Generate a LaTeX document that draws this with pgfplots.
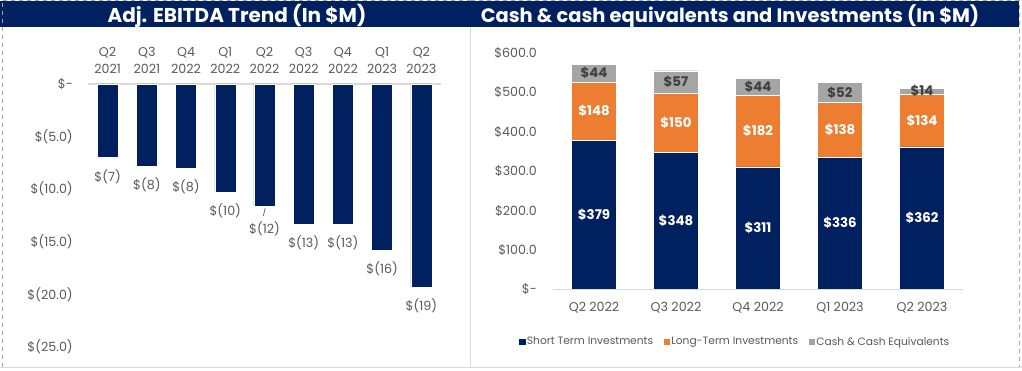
\documentclass[border=0pt]{standalone}
\usepackage{pgfplots}
\pgfplotsset{compat=1.18}
\usepackage{fontspec}
\setmainfont{Poppins}
\definecolor{navy}{RGB}{0,32,96}
\definecolor{orng}{RGB}{237,125,49}
\definecolor{gry}{RGB}{165,165,165}
\definecolor{txt}{RGB}{89,89,89}
\definecolor{dtxt}{RGB}{64,64,64}
\definecolor{sepc}{RGB}{217,217,217}
\begin{document}
\begin{tikzpicture}
\useasboundingbox (0,0) rectangle (766.5pt,278.25pt);
\fill[white] (0,0) rectangle (766.5pt,278.25pt);
% title bars
\fill[navy] (0pt,258pt) rectangle (352.9pt,277.5pt);
\fill[navy] (353.6pt,258pt) rectangle (764.25pt,277.5pt);
\node[white,anchor=base,font=\bfseries\fontsize{15}{17}\selectfont] at (177.75pt,261.2pt) {Adj. EBITDA Trend (In \$M)};
\node[white,anchor=base,font=\bfseries\fontsize{14.6}{17}\selectfont] at (547.5pt,261.2pt) {Cash \& cash equivalents and Investments (In \$M)};
% frames
\draw[gray!70,dashed,line width=0.5pt] (1.5pt,2.8pt) -- (1.5pt,278pt) -- (352.9pt,278pt);
\draw[gray!70,dashed,line width=0.5pt] (353.6pt,278pt) -- (764.25pt,278pt) -- (764.25pt,2.8pt);
\draw[sepc,line width=0.8pt] (353.2pt,2.6pt) -- (353.2pt,258pt);
\draw[sepc,line width=0.8pt] (0pt,2.6pt) -- (766.5pt,2.6pt);

% ---------- left chart ----------
\begin{axis}[
  at={(66pt,18pt)}, anchor=south west,
  scale only axis, width=264.75pt, height=197.25pt,
  ybar, bar width=15.75pt, bar shift=0pt,
  xmin=-0.5, xmax=8.5, ymin=-25, ymax=0,
  axis line style={draw=none}, tick style={draw=none},
  major tick length=0pt,
  xtick={0,...,8},
  xticklabels={{Q2\\2021},{Q3\\2021},{Q4\\2022},{Q1\\2022},{Q2\\2022},{Q3\\2022},{Q4\\2022},{Q1\\2023},{Q2\\2023}},
  xticklabel pos=upper,
  xticklabel style={align=center, text=txt, font=\fontsize{9.5}{12.75}\selectfont, anchor=south, inner sep=0pt, yshift=8pt},
  ytick={-25,-20,-15,-10,-5,0},
  yticklabels={\$(25.0),\$(20.0),\$(15.0),\$(10.0),\$(5.0),\$-},
  yticklabel style={text=txt, font=\fontsize{9.5}{11}\selectfont, anchor=east, inner sep=0pt, xshift=-11.25pt},
  clip=false,
]
\draw[sepc,line width=1.2pt] (rel axis cs:0,1) -- (rel axis cs:1,1);
\addplot[fill=navy, draw=white, line width=0.3pt] coordinates {
(0,-7.0) (1,-7.8) (2,-8.0) (3,-10.3) (4,-11.6) (5,-13.3) (6,-13.3) (7,-15.8) (8,-19.3)};
% data labels
\addplot[draw=none, fill=none,
  nodes near coords={\$(\pgfplotspointmeta)},
  point meta=explicit symbolic,
  every node near coord/.append style={anchor=north, inner sep=0pt, yshift=-8.5pt, text=txt, font=\fontsize{9.5}{11}\selectfont}]
  table[meta=lab] {
x y lab
0 -7.0 7
1 -7.8 8
2 -8.0 8
3 -10.3 10
4 -11.98 12
5 -13.3 13
6 -13.3 13
7 -15.8 16
8 -19.3 19
};
\addplot[sharp plot, txt, line width=0.5pt, mark=none] coordinates {(4.02,-11.78) (3.97,-12.55)};
\end{axis}

% ---------- right chart ----------
\begin{axis}[
  at={(414.75pt,61.125pt)}, anchor=south west,
  scale only axis, width=307.5pt, height=177.375pt,
  ybar stacked, bar width=33.75pt,
  legend image code/.code={\fill[#1,draw=none] (0pt,-2.3pt) rectangle (4.6pt,2.3pt);},
  xmin=-0.5, xmax=4.5, ymin=0, ymax=600,
  axis line style={draw=none}, tick style={draw=none},
  major tick length=0pt,
  xtick={0,...,4},
  xticklabels={Q2 2022,Q3 2022,Q4 2022,Q1 2023,Q2 2023},
  xticklabel style={text=txt, font=\fontsize{9.5}{11}\selectfont, anchor=north, inner sep=0pt, yshift=-9pt},
  ytick={0,100,...,600},
  yticklabels={\$-,\$100.0,\$200.0,\$300.0,\$400.0,\$500.0,\$600.0},
  yticklabel style={text=txt, font=\fontsize{9.5}{11}\selectfont, anchor=east, inner sep=0pt, xshift=-12pt},
  legend columns=3,
  legend style={draw=none, fill=none, at={(0.444,-0.222)}, anchor=center,
    font=\fontsize{8}{10}\selectfont, text=txt,
    /tikz/every odd column/.append style={column sep=0pt},
    /tikz/every even column/.append style={column sep=7pt},
    nodes={inner sep=1pt}},
  clip=false,
]
\draw[sepc,line width=1.2pt] (rel axis cs:0,0) -- (rel axis cs:1,0);
\addplot[fill=navy, draw=white, line width=0.3pt] coordinates {(0,379) (1,348) (2,311) (3,336) (4,362)};
\addlegendentry{Short Term Investments}
\addplot[fill=orng, draw=white, line width=0.3pt] coordinates {(0,148) (1,150) (2,182) (3,138) (4,134)};
\addlegendentry{Long-Term Investments}
\addplot[fill=gry, draw=white, line width=0.3pt] coordinates {(0,44) (1,57) (2,44) (3,52) (4,14)};
\addlegendentry{Cash \& Cash Equivalents}
\end{axis}

% ---------- right chart labels (segment midpoints) ----------
\begin{axis}[
  at={(414.75pt,61.125pt)}, anchor=south west,
  scale only axis, width=307.5pt, height=177.375pt,
  xmin=-0.5, xmax=4.5, ymin=0, ymax=600, hide axis, clip=false,
]
\addplot[only marks, mark=none,
  nodes near coords={\$\pgfplotspointmeta}, point meta=explicit symbolic,
  every node near coord/.append style={anchor=center, inner sep=0pt, text=white, font=\bfseries\fontsize{10}{12}\selectfont}]
  table[meta=lab] {
x y lab
0 189.5 379
1 174 348
2 155.5 311
3 168 336
4 181 362
0 453 148
1 423 150
2 402 182
3 405 138
4 429 134
};
\addplot[only marks, mark=none,
  nodes near coords={\$\pgfplotspointmeta}, point meta=explicit symbolic,
  every node near coord/.append style={anchor=center, inner sep=0pt, text=dtxt, font=\bfseries\fontsize{10}{12}\selectfont}]
  table[meta=lab] {
x y lab
0 549 44
1 526.5 57
2 515 44
3 500 52
4 503 14
};
\end{axis}
\end{tikzpicture}
\end{document}
